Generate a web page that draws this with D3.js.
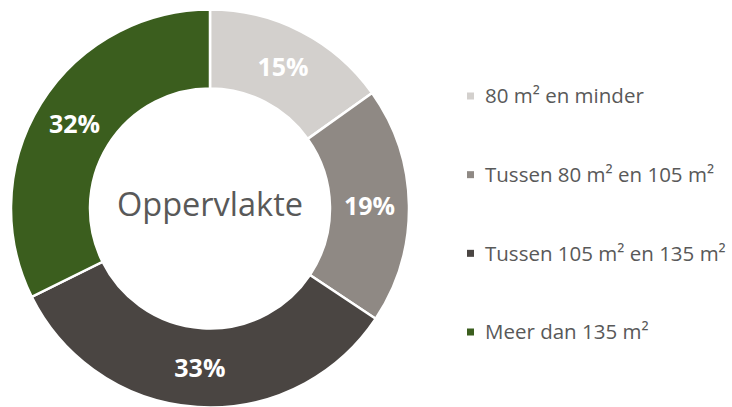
<!DOCTYPE html>
<html>
<head>
<meta charset="utf-8">
<script src="https://cdn.jsdelivr.net/npm/d3@7"></script>
<style>
  body { margin: 0; background: #fff; }
  svg { display: block; }
</style>
</head>
<body>
<div id="container"></div>
<script>
// categories + values (percent)
let categories = ["80 m\u00b2 en minder", "Tussen 80 m\u00b2 en 105 m\u00b2", "Tussen 105 m\u00b2 en 135 m\u00b2", "Meer dan 135 m\u00b2"];
let values = [15, 19, 33, 32];
let colors = ["#d3d0cd", "#8f8984", "#4a4542", "#3b5e1e"];
let centerTitle = "Oppervlakte";

let w = 732;
let h = 407;

let viz = d3.select("#container")
  .append("svg")
    .attr("width", w)
    .attr("height", h)
    .style("background-color", "white");

let cx = 210;
let cy = 208.5;
let outerR = 199;
let innerR = 120;

let data = categories.map(function(c, i) {
  return { name: c, value: values[i], color: colors[i] };
});

let pie = d3.pie()
  .sort(null)
  .value(function(d) { return d.value; });

let arc = d3.arc()
  .innerRadius(innerR)
  .outerRadius(outerR);

let labelArc = d3.arc()
  .innerRadius((innerR + outerR) / 2)
  .outerRadius((innerR + outerR) / 2);

let donut = viz.append("g")
  .attr("transform", "translate(" + cx + "," + cy + ")");

let slices = donut.selectAll(".slice").data(pie(data)).enter()
  .append("g")
    .attr("class", "slice");

slices.append("path")
  .attr("d", arc)
  .attr("fill", function(d) { return d.data.color; })
  .attr("stroke", "white")
  .attr("stroke-width", 2.5);

slices.append("text")
  .attr("transform", function(d) { return "translate(" + labelArc.centroid(d) + ")"; })
  .attr("text-anchor", "middle")
  .attr("dy", "0.36em")
  .style("font-family", "'Open Sans', sans-serif")
  .style("font-weight", "bold")
  .style("font-size", "25px")
  .style("fill", "white")
  .text(function(d) { return d.data.value + "%"; });

// title in the hole
donut.append("text")
  .attr("text-anchor", "middle")
  .attr("y", -4)
  .attr("dy", "0.36em")
  .style("font-family", "'Open Sans', sans-serif")
  .style("font-size", "32.5px")
  .style("fill", "#595959")
  .text(centerTitle);

// legend
let legendY = d3.scalePoint()
  .domain(categories)
  .range([96, 332]);

let legend = viz.selectAll(".legend").data(data).enter()
  .append("g")
    .attr("class", "legend")
    .attr("transform", function(d) { return "translate(467," + legendY(d.name) + ")"; });

legend.append("rect")
  .attr("x", 0)
  .attr("y", -3.5)
  .attr("width", 7)
  .attr("height", 7)
  .attr("fill", function(d) { return d.color; });

legend.append("text")
  .attr("x", 18)
  .attr("dy", "0.36em")
  .style("font-family", "'Open Sans', sans-serif")
  .style("font-size", "20.5px")
  .style("fill", "#595959")
  .text(function(d) { return d.name; });
</script>
</body>
</html>
